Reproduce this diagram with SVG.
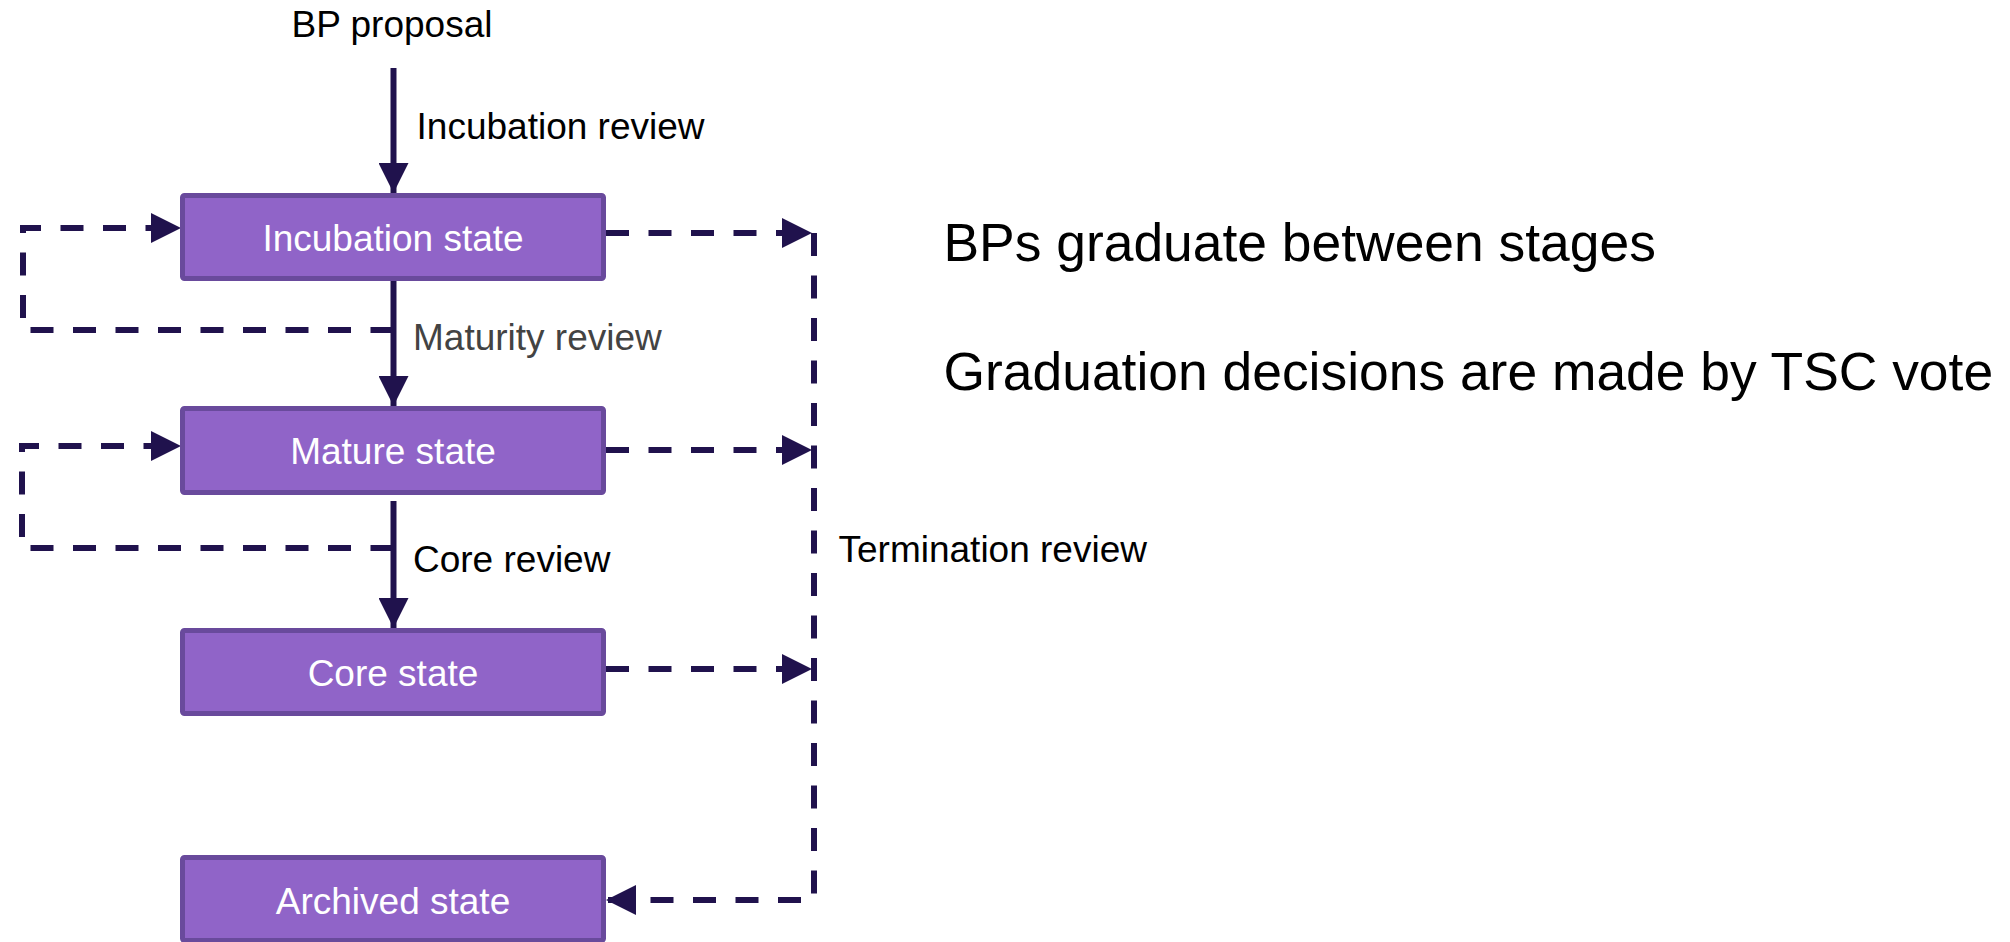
<svg xmlns="http://www.w3.org/2000/svg" width="2010" height="942" viewBox="0 0 2010 942">
  <style>
    .box { fill: #9064c8; stroke: #694a9c; stroke-width: 5; }
    .btxt { font-family: "Liberation Sans", Arial, sans-serif; font-size: 37px; fill: #ffffff; text-anchor: middle; }
    .lbl { font-family: "Liberation Sans", Arial, sans-serif; font-size: 37px; fill: #000000; }
    .big { font-family: "Liberation Sans", Arial, sans-serif; font-size: 53.4px; fill: #000000; }
    .solid { fill: none; stroke: #20124d; stroke-width: 6; }
    .dash { fill: none; stroke: #20124d; stroke-width: 6; stroke-dasharray: 23 19.5; }
  </style>
  <defs>
    <marker id="ah" viewBox="0 0 30 30" refX="30" refY="15" markerWidth="30" markerHeight="30" markerUnits="userSpaceOnUse" orient="auto">
      <path d="M0,0 L30,15 L0,30 Z" fill="#20124d"/>
    </marker>
  </defs>
  <rect width="2010" height="942" fill="#ffffff"/>

  <g id="connectors">
    <path class="solid" d="M393.5,68 L393.5,193" marker-end="url(#ah)"/>
    <path class="solid" d="M393.5,281 L393.5,406" marker-end="url(#ah)"/>
    <path class="solid" d="M393.5,501 L393.5,628" marker-end="url(#ah)"/>
    <path class="dash" d="M393.5,330 L23,330 L23,228 L181,228" marker-end="url(#ah)"/>
    <path class="dash" d="M393.5,548 L22,548 L22,446 L181,446" marker-end="url(#ah)"/>
    <path class="dash" d="M606,233 L812,233" marker-end="url(#ah)"/>
    <path class="dash" d="M606,450 L812,450" marker-end="url(#ah)"/>
    <path class="dash" d="M606,669 L812,669" marker-end="url(#ah)"/>
    <path class="dash" d="M814,233 L814,900 L606,900" marker-end="url(#ah)"/>
  </g>

  <g id="label-bp-proposal"><text class="lbl" x="392" y="37" text-anchor="middle">BP proposal</text></g>
  <g id="label-incubation-review"><text class="lbl" x="416.6" y="139">Incubation review</text></g>
  <g id="label-maturity-review"><text class="lbl" x="413" y="350" style="fill:#434343">Maturity review</text></g>
  <g id="label-core-review"><text class="lbl" x="413" y="572">Core review</text></g>
  <g id="label-termination-review"><text class="lbl" x="838.5" y="561.5">Termination review</text></g>

  <g id="node-incubation">
    <rect class="box" x="182.5" y="195.5" width="421" height="83" rx="2"/>
    <text class="btxt" x="393" y="250.5">Incubation state</text>
  </g>
  <g id="node-mature">
    <rect class="box" x="182.5" y="408.5" width="421" height="84" rx="2"/>
    <text class="btxt" x="393" y="463.5">Mature state</text>
  </g>
  <g id="node-core">
    <rect class="box" x="182.5" y="630.5" width="421" height="83" rx="2"/>
    <text class="btxt" x="393" y="686">Core state</text>
  </g>
  <g id="node-archived">
    <rect class="box" x="182.5" y="857.5" width="421" height="83" rx="2"/>
    <text class="btxt" x="393" y="914">Archived state</text>
  </g>

  <g id="notes">
    <text class="big" x="943.5" y="261">BPs graduate between stages</text>
    <text class="big" x="943.5" y="390">Graduation decisions are made by TSC vote</text>
  </g>
</svg>
